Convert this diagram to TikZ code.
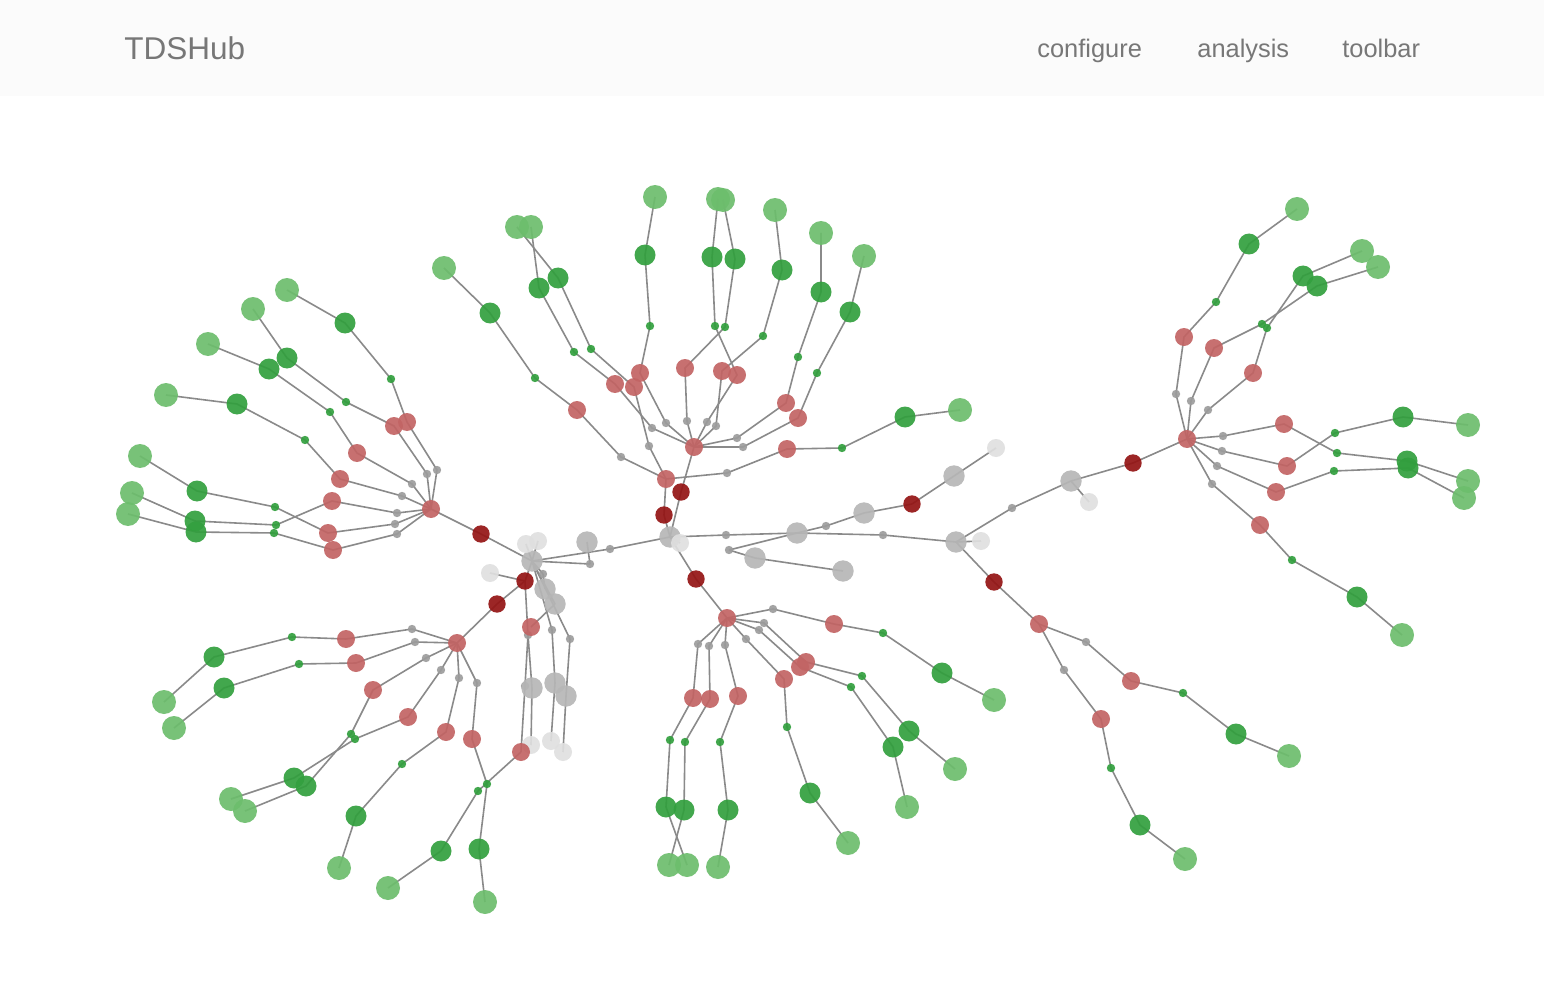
\documentclass[tikz,border=0pt]{standalone}
\usepackage{fontspec}
\setmainfont{Liberation Sans}
\usetikzlibrary{backgrounds}
\definecolor{navbg}{HTML}{FBFBFB}
\definecolor{navtext}{HTML}{777777}
\definecolor{leafgreen}{HTML}{6CBD6C}
\definecolor{darkgreen}{HTML}{329F3E}
\definecolor{softred}{HTML}{C26464}
\definecolor{deepred}{HTML}{941414}
\definecolor{midgray}{HTML}{B6B6B6}
\definecolor{dotgray}{HTML}{9C9C9C}
\definecolor{palegray}{HTML}{DFDFDF}
\definecolor{linkgray}{HTML}{8A8A8A}
\begin{document}
\begin{tikzpicture}[x=0.5pt,y=-0.5pt,
    blob/.style={circle,inner sep=0pt,fill opacity=0.92},
    leaf/.style={blob,fill=leafgreen,minimum size=12pt},
    grn/.style={blob,fill=darkgreen,minimum size=10.5pt},
    gdot/.style={blob,fill=darkgreen,minimum size=4.2pt},
    rnode/.style={blob,fill=softred,minimum size=9pt},
    dred/.style={blob,fill=deepred,minimum size=8.7pt},
    gbig/.style={blob,fill=midgray,minimum size=10.7pt},
    gsm/.style={blob,fill=dotgray,minimum size=4.2pt},
    glight/.style={blob,fill=palegray,minimum size=9pt},
    link/.style={draw=linkgray,line width=0.8pt},
    navlabel/.style={text=navtext,inner sep=0pt,anchor=base west}]
    \useasboundingbox (0,0) rectangle (1544,1006);
    % header bar
    \fill[navbg] (0,0) rectangle (1544,96);
    \node[navlabel,font=\fontsize{15.75}{18}\selectfont] (brand) at (124,60) {TDSHub};
    \node[navlabel,font=\fontsize{12.7}{15}\selectfont] (navcfg) at (1037,58) {configure};
    \node[navlabel,font=\fontsize{12.7}{15}\selectfont] (navana) at (1197,58) {analysis};
    \node[navlabel,font=\fontsize{12.7}{15}\selectfont] (navbar) at (1342,58) {toolbar};

    % gray core
    \node[gbig] (c0) at (670,537) {};
    \node[glight] (c0w) at (680,543) {};
    \node[gsm] (gs1) at (726,535) {};
    \node[gsm] (gs2) at (729,550) {};
    \node[gbig] (gb1) at (797,533) {};
    \node[gbig] (gb2) at (755,558) {};
    \node[gbig] (gb3) at (843,571) {};
    \node[gsm] (gs3) at (826,526) {};
    \node[gbig] (gb4) at (864,513) {};
    \node[dred] (drD) at (912,504) {};
    \node[gbig] (gb5) at (954,476) {};
    \node[glight] (gl1) at (996,448) {};
    \node[gsm] (gs4) at (883,535) {};
    \node[gbig] (gb6) at (956,542) {};
    \node[glight] (gl2) at (981,541) {};
    \node[gsm] (gs5) at (1012,508) {};
    \node[gbig] (gb7) at (1071,481) {};
    \node[glight] (gl3) at (1089,502) {};
    \node[dred] (drE) at (1133,463) {};
    \node[dred] (drF) at (994,582) {};
    \node[gsm] (gs6) at (610,549) {};
    \node[gsm] (gs7) at (590,564) {};
    \node[gbig] (gb8) at (587,542) {};
    \node[gbig] (gb9) at (532,561) {};
    \node[glight] (gl4) at (526,544) {};
    \node[glight] (gl5) at (538,541) {};
    \node[dred] (drG) at (481,534) {};
    \node[glight] (gl6) at (490,573) {};
    \node[dred] (drI) at (497,604) {};
    \node[gsm] (gs8) at (543,574) {};
    \node[gbig] (gb10) at (545,589) {};
    \node[gbig] (gb11) at (555,604) {};
    \node[gsm] (gs9) at (552,630) {};
    \node[gsm] (gs10) at (570,639) {};
    \node[gbig] (gb12) at (555,683) {};
    \node[gbig] (gb13) at (566,696) {};
    \node[glight] (gl7) at (551,741) {};
    \node[glight] (gl8) at (563,752) {};
    \node[gsm] (gs11) at (528,635) {};
    \node[gsm] (gs12) at (525,686) {};
    \node[gbig] (gb14) at (532,688) {};
    \node[glight] (gl9) at (531,745) {};
    \node[dred] (drH) at (525,581) {};
    \node[rnode] (rM) at (531,627) {};
    \node[dred] (drA) at (664,515) {};
    \node[dred] (drB) at (681,492) {};
    \node[dred] (drC) at (696,579) {};

    % hubs
    \node[rnode] (rT) at (694,447) {};
    \node[rnode] (rT1) at (666,479) {};
    \node[rnode] (rL) at (431,509) {};
    \node[rnode] (rLL) at (457,643) {};
    \node[rnode] (rB) at (727,618) {};
    \node[rnode] (rR) at (1187,439) {};
    \node[rnode] (rS) at (1039,624) {};

    % lone branch under the core
    \node[rnode] (rN) at (521,752) {};
    \node[gdot] (nd) at (478,791) {};
    \node[grn] (ng) at (441,851) {};
    \node[leaf] (nl) at (388,888) {};

    \begin{pgfonlayer}{background}
        \foreach \a/\b in {c0/c0w,c0/drA,drA/rT1,c0/drB,drB/rT,c0/drC,drC/rB,
            c0/gs1,gs1/gb1,gb1/gs4,gs4/gb6,gb6/gl2,gb6/gs5,gs5/gb7,gb7/gl3,
            gb7/drE,drE/rR,gb6/drF,drF/rS,gb1/gs2,gs2/gb2,gb2/gb3,
            gb1/gs3,gs3/gb4,gb4/drD,drD/gb5,gb5/gl1,
            c0/gs6,gs6/gb9,gb9/gs7,gs7/gb8,gb9/gl4,gb9/gl5,gb9/drG,drG/rL,
            gb9/drH,drH/gl6,drH/drI,drI/rLL,gb9/gs8,gs8/gb10,gb9/gb11,gb11/rM,
            gb9/gs9,gs9/gb12,gb12/gl7,gb9/gs10,gs10/gb13,gb13/gl8,
            drH/gs11,gs11/gs12,gs12/rN,gs11/gb14,gb14/gl9,
            rN/nd,nd/ng,ng/nl}
            \draw[link] (\a.center) -- (\b.center);
    \end{pgfonlayer}

    % hub -> dot -> red -> green dot -> green -> leaf
    \foreach \h/\ax/\ay/\bx/\by/\cx/\cy/\dx/\dy/\ex/\ey [count=\i] in {
        rL/437/470/407/422/391/379/345/323/287/290,
        rL/427/474/394/426/346/402/287/358/253/309,
        rL/412/484/357/453/330/412/269/369/208/344,
        rL/402/496/340/479/305/440/237/404/166/395,
        rL/395/524/328/533/275/507/197/491/140/456,
        rL/397/513/332/501/276/525/195/521/132/493,
        rL/397/534/333/550/274/533/196/532/128/514,
        rLL/412/629/346/639/292/637/214/657/164/702,
        rLL/415/642/356/663/299/664/224/688/174/728,
        rLL/426/658/373/690/351/734/306/786/245/811,
        rLL/441/670/408/717/355/739/294/778/231/799,
        rLL/459/678/446/732/402/764/356/816/339/868,
        rLL/477/683/472/739/487/784/479/849/485/902,
        rT/652/428/615/384/574/352/539/288/531/227,
        rT/666/423/640/373/650/326/645/255/655/197,
        rT/687/421/685/368/725/327/735/259/723/200,
        rT/707/422/737/375/715/326/712/257/718/199,
        rT/716/426/722/371/763/336/782/270/775/210,
        rT/737/438/786/403/798/357/821/292/821/233,
        rT/743/447/798/418/817/373/850/312/864/256,
        rT1/649/446/634/387/591/349/558/278/517/227,
        rT1/621/457/577/410/535/378/490/313/444/268,
        rT1/727/473/787/449/842/448/905/417/960/410,
        rB/773/609/834/624/883/633/942/673/994/700,
        rB/764/623/806/662/862/676/909/731/955/769,
        rB/759/630/800/667/851/687/893/747/907/807,
        rB/746/639/784/679/787/727/810/793/848/843,
        rB/725/645/738/696/720/742/728/810/718/867,
        rB/709/646/710/699/685/742/684/810/669/865,
        rB/698/644/693/698/670/740/666/807/687/865,
        rR/1176/394/1184/337/1216/302/1249/244/1297/209,
        rR/1191/401/1214/348/1262/324/1317/286/1378/267,
        rR/1208/410/1253/373/1267/328/1303/276/1362/251,
        rR/1223/436/1284/424/1337/453/1407/461/1468/481,
        rR/1222/451/1287/466/1335/433/1403/417/1468/425,
        rR/1217/466/1276/492/1334/471/1408/468/1464/498,
        rR/1212/484/1260/525/1292/560/1357/597/1402/635,
        rS/1086/642/1131/681/1183/693/1236/734/1289/756,
        rS/1064/670/1101/719/1111/768/1140/825/1185/859}{
        \node[gsm] (s\i) at (\ax,\ay) {};
        \node[rnode] (r\i) at (\bx,\by) {};
        \node[gdot] (d\i) at (\cx,\cy) {};
        \node[grn] (g\i) at (\dx,\dy) {};
        \node[leaf] (l\i) at (\ex,\ey) {};
        \begin{pgfonlayer}{background}
            \draw[link] (\h.center) -- (s\i.center) -- (r\i.center)
                -- (d\i.center) -- (g\i.center) -- (l\i.center);
        \end{pgfonlayer}
    }
\end{tikzpicture}
\end{document}
